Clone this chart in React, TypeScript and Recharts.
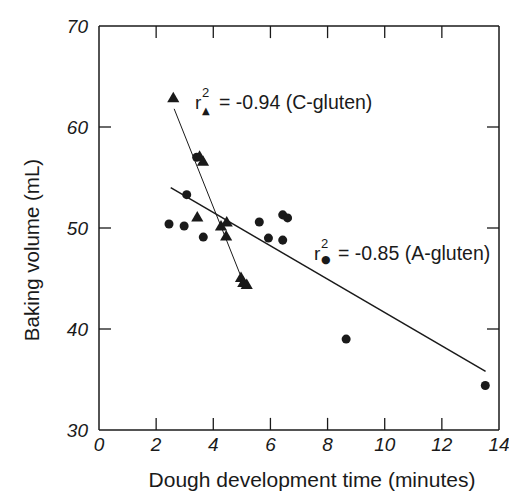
import React from 'react';
import { ScatterChart, Scatter, XAxis, YAxis, ReferenceLine } from 'recharts';

// axis ticks
const timeTicks = [0, 2, 4, 6, 8, 10, 12, 14];
const volumeTicks = [30, 40, 50, 60, 70];

// A-gluten samples (circles)
const aGlutenTime = [2.45, 2.98, 3.07, 3.42, 3.65, 5.61, 5.93, 6.43, 6.6, 6.43, 8.65, 13.52];
const aGlutenVolume = [50.4, 50.2, 53.3, 57.0, 49.1, 50.6, 49.0, 51.3, 51.0, 48.8, 39.0, 34.4];

// C-gluten samples (triangles)
const cGlutenTime = [2.6, 3.52, 3.64, 3.44, 4.27, 4.47, 4.45, 4.97, 5.05, 5.17];
const cGlutenVolume = [62.8, 57.0, 56.5, 51.0, 50.1, 50.5, 49.1, 45.0, 44.5, 44.3];

// fitted lines, end points
const aFitTime = [2.51, 13.53];
const aFitVolume = [54.0, 35.8];
const cFitTime = [2.63, 4.94];
const cFitVolume = [61.8, 45.4];

const aGluten = aGlutenTime.map((x, i) => ({ x, y: aGlutenVolume[i] }));
const cGluten = cGlutenTime.map((x, i) => ({ x, y: cGlutenVolume[i] }));
const aFit = aFitTime.map((x, i) => ({ x, y: aFitVolume[i] }));
const cFit = cFitTime.map((x, i) => ({ x, y: cFitVolume[i] }));

const X_MIN = 0;
const X_MAX = 14;
const Y_MIN = 30;
const Y_MAX = 70;
// inward tick length, in data units (~12px)
const TICK_X = 0.42;
const TICK_Y = 1.2;

const INK = '#1a1a1a';
const FONT = '"Liberation Sans", Arial, sans-serif';
const GLYPH_FONT = '"DejaVu Sans", sans-serif';

const LeftTick = (props: any) => {
  const { x, y, payload } = props;
  return (
    <text x={x} y={y} dy="0.36em" textAnchor="end" fontSize={19} fontStyle="italic" fontFamily={FONT} fill={INK}>
      {payload.value}
    </text>
  );
};

const BottomTick = (props: any) => {
  const { x, y, payload } = props;
  return (
    <text x={x} y={y} dy="0.76em" textAnchor="middle" fontSize={19} fontStyle="italic" fontFamily={FONT} fill={INK}>
      {payload.value}
    </text>
  );
};

const innerTime = timeTicks.filter((t) => t > X_MIN && t < X_MAX);
const innerVolume = volumeTicks.filter((v) => v > Y_MIN && v < Y_MAX);

export default function App() {
  return (
    <div style={{ position: 'absolute', left: 0, top: 0, width: 509, height: 502, background: '#fff' }}>
      <ScatterChart width={509} height={502} margin={{ top: 26, right: 10, left: 39, bottom: 42 }}>
        <XAxis
          type="number"
          dataKey="x"
          domain={[X_MIN, X_MAX]}
          ticks={timeTicks}
          height={30}
          tickSize={0}
          tickMargin={7}
          tickLine={false}
          tick={<BottomTick />}
          axisLine={{ stroke: INK, strokeWidth: 1.5 }}
        />
        <YAxis
          type="number"
          dataKey="y"
          domain={[Y_MIN, Y_MAX]}
          ticks={volumeTicks}
          width={60}
          tickSize={0}
          tickMargin={11}
          tickLine={false}
          tick={<LeftTick />}
          axisLine={{ stroke: INK, strokeWidth: 1.5 }}
        />
        {/* top and right frame */}
        <ReferenceLine y={Y_MAX} stroke={INK} strokeWidth={1.5} />
        <ReferenceLine x={X_MAX} stroke={INK} strokeWidth={1.5} />
        {/* inward tick marks on all four sides */}
        {innerTime.map((t) => (
          <ReferenceLine key={'b' + t} segment={[{ x: t, y: Y_MIN }, { x: t, y: Y_MIN + TICK_Y }]} stroke={INK} strokeWidth={1.3} />
        ))}
        {innerTime.map((t) => (
          <ReferenceLine key={'t' + t} segment={[{ x: t, y: Y_MAX }, { x: t, y: Y_MAX - TICK_Y }]} stroke={INK} strokeWidth={1.3} />
        ))}
        {innerVolume.map((v) => (
          <ReferenceLine key={'l' + v} segment={[{ x: X_MIN, y: v }, { x: X_MIN + TICK_X, y: v }]} stroke={INK} strokeWidth={1.3} />
        ))}
        {innerVolume.map((v) => (
          <ReferenceLine key={'r' + v} segment={[{ x: X_MAX, y: v }, { x: X_MAX - TICK_X, y: v }]} stroke={INK} strokeWidth={1.3} />
        ))}
        <ReferenceLine segment={aFit} stroke={INK} strokeWidth={1.5} />
        <ReferenceLine segment={cFit} stroke={INK} strokeWidth={1} />
        <Scatter data={aGluten} shape="circle" size={40} fill={INK} isAnimationActive={false} />
        <Scatter data={cGluten} shape="triangle" size={40} fill={INK} isAnimationActive={false} />
      </ScatterChart>
      <svg
        width={509}
        height={502}
        style={{ position: 'absolute', left: 0, top: 0, pointerEvents: 'none' }}
        fontFamily={FONT}
        fill={INK}
      >
        <text x={195} y={109} fontSize={19}>r</text>
        <text x={202} y={97} fontSize={13}>2</text>
        <text x={202} y={114} fontSize={10} fontFamily={GLYPH_FONT}>▲</text>
        <text x={219} y={109} fontSize={19.5}>= -0.94 (C-gluten)</text>

        <text x={314} y={260} fontSize={19}>r</text>
        <text x={321} y={248} fontSize={13}>2</text>
        <text x={321} y={263} fontSize={11} fontFamily={GLYPH_FONT}>●</text>
        <text x={338} y={260} fontSize={19.5}>= -0.85 (A-gluten)</text>

        <text x={312} y={487} fontSize={21} textAnchor="middle">Dough development time (minutes)</text>
        <text x={39} y={250} fontSize={20.5} textAnchor="middle" transform="rotate(-90 39 250)">
          Baking volume (mL)
        </text>
      </svg>
    </div>
  );
}
